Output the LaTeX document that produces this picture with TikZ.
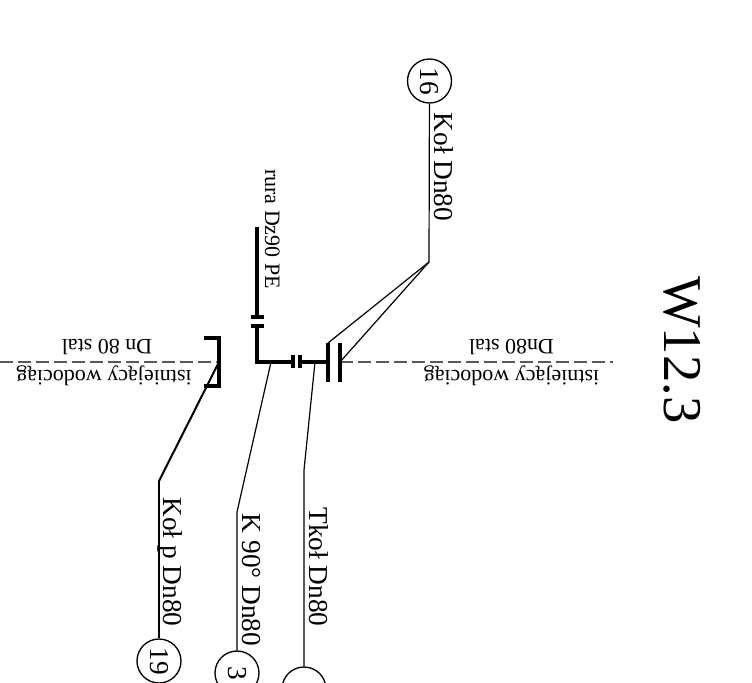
\documentclass[tikz,border=0pt]{standalone}
\usepackage{fontspec}
\setmainfont{Liberation Serif}
\tikzset{
  pipe/.style={line width=2.3pt},
  leader/.style={line width=0.9pt},
  main/.style={line width=0.8pt,dashed,dash pattern=on 10pt off 3.5pt,black!65},
  bubble/.style={draw,circle,line width=1pt,minimum size=33pt,inner sep=0pt,rotate=-90,font=\fontsize{20.5}{20.5}\selectfont},
  biglabel/.style={rotate=-90,anchor=base,inner sep=0pt,font=\fontsize{20.5}{20.5}\selectfont},
  smalllabel/.style={anchor=base,inner sep=0pt,font=\fontsize{16.5}{16.5}\selectfont}
}
\begin{document}
\begin{tikzpicture}[x=0.75pt,y=-0.75pt]
  \clip (0,0) rectangle (752,682);
  % existing main
  \coordinate (mainL) at (0,362);
  \coordinate (mainBr) at (219,362);
  \coordinate (mainFl) at (340,362);
  \coordinate (mainR) at (613,362);
  \draw [main] (mainL) -- (mainBr);
  \draw [main] (mainFl) -- (mainR);
  % end bracket
  \coordinate (brTa) at (204,338);
  \coordinate (brTb) at (219,338);
  \coordinate (brBa) at (219,386);
  \coordinate (brBb) at (204,386);
  \draw [pipe,line join=miter] (brTa) -- (brTb) -- (brBa) -- (brBb);
  % flange plates
  \coordinate (plAt) at (328,343);
  \coordinate (plAb) at (328,382);
  \coordinate (plBt) at (340,343);
  \coordinate (plBb) at (340,382);
  \draw [pipe] (plAt) -- (plAb);
  \draw [pipe] (plBt) -- (plBb);
  \coordinate (smAt) at (293,355);
  \coordinate (smAb) at (293,368);
  \coordinate (smBt) at (300,355);
  \coordinate (smBb) at (300,368);
  \draw [pipe] (smAt) -- (smAb);
  \draw [pipe] (smBt) -- (smBb);
  % branch with PE pipe
  \coordinate (elbow) at (257,362);
  \coordinate (plA) at (293,362);
  \coordinate (plB) at (300,362);
  \coordinate (plC) at (328,362);
  \coordinate (capAl) at (251,326);
  \coordinate (capAr) at (264,326);
  \coordinate (capBl) at (251,317);
  \coordinate (capBr) at (264,317);
  \coordinate (capA) at (257,326);
  \coordinate (capB) at (257,317);
  \coordinate (peEnd) at (257,227);
  \draw [pipe] (capA) -- (elbow) -- (plA);
  \draw [pipe] (plB) -- (plC);
  \draw [pipe] (capAl) -- (capAr);
  \draw [pipe] (capBl) -- (capBr);
  \draw [pipe] (capB) -- (peEnd);
  % numbered bubbles
  \node [bubble] (b16) at (429.5,81) {16};
  \node [bubble] (b19) at (159,661) {19};
  \node [bubble] (b3) at (237,673) {3};
  \node [bubble] (bT) at (304,689) {};
  % leaders
  \coordinate (kolFork) at (429,262);
  \coordinate (kolKink) at (159,481);
  \coordinate (kKink) at (237,512);
  \coordinate (kStart) at (271,362);
  \coordinate (tKink) at (304,470);
  \coordinate (tStart) at (315,362);
  \draw [leader] (b16) -- (kolFork);
  \draw [leader] (kolFork) -- (plAt);
  \draw [leader] (kolFork) -- (mainFl);
  \draw [line width=1.5pt] (mainBr) -- (kolKink);
  \draw [leader] (kolKink) -- (b19);
  \draw [leader] (kStart) -- (kKink) -- (b3);
  \draw [leader] (tStart) -- (tKink) -- (bT);
  % labels
  \node [biglabel] (lblKol) at (434.5,167) {Koł Dn80};
  \node [biglabel] (lblKolp) at (163.5,562) {Koł p Dn80};
  \node [biglabel] (lblK) at (242.5,580) {K 90° Dn80};
  \node [biglabel] (lblT) at (309.5,567) {Tkoł Dn80};
  \node [rotate=-90,anchor=base,inner sep=0pt,font=\fontsize{41}{41}\selectfont] (title) at (664,350) {W12.3};
  \node [smalllabel,rotate=-90] (lblPe) at (265,229) {rura Dz90 PE};
  \node [smalllabel,rotate=180] (lblSteelL) at (107,339) {Dn 80 stal};
  \node [smalllabel,rotate=180] (lblWaterL) at (104,370) {istniejący wodociąg};
  \node [smalllabel,rotate=180] (lblSteelR) at (511.5,339) {Dn80 stal};
  \node [smalllabel,rotate=180] (lblWaterR) at (511.5,370) {istniejący wodociąg};
\end{tikzpicture}
\end{document}
